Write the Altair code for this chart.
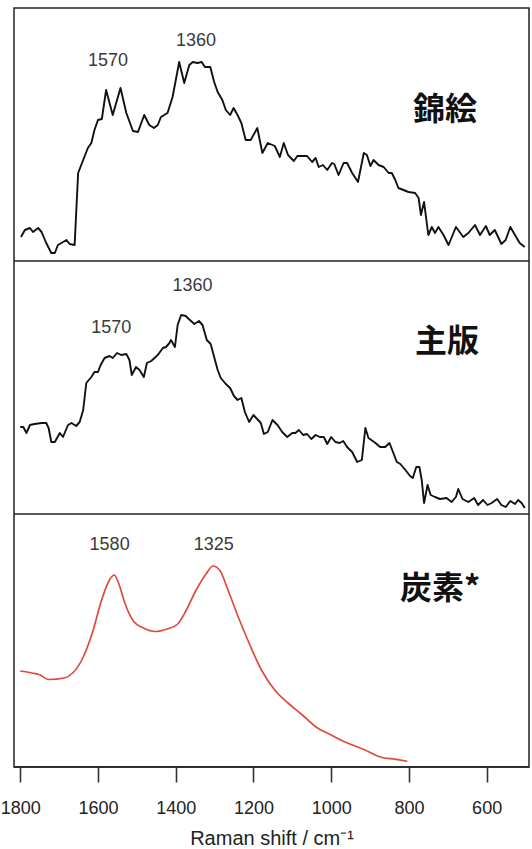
import altair as alt
import pandas as pd

# Shared wavenumber axis (cm^-1), drawn high-to-low
x_ticks = [1800, 1600, 1400, 1200, 1000, 800, 600]
x_domain = [491, 1816]

# 錦絵 spectrum
nishikie_wn = [1798, 1788, 1775, 1767, 1754, 1745, 1733, 1720, 1711, 1703, 1694, 1681, 1673, 1660,
               1651, 1638, 1626, 1617, 1609, 1600, 1590, 1579, 1562, 1542, 1527, 1510, 1497, 1481,
               1468, 1456, 1446, 1438, 1421, 1408, 1391, 1378, 1365, 1356, 1344, 1333, 1325, 1311,
               1301, 1292, 1280, 1271, 1260, 1251, 1241, 1231, 1220, 1207, 1190, 1177, 1163, 1145,
               1132, 1122, 1111, 1096, 1087, 1062, 1049, 1040, 1032, 1021, 1010, 998, 992, 981,
               968, 959, 946, 931, 916, 908, 899, 891, 878, 865, 852, 844, 835, 827,
               814, 801, 784, 775, 769, 761, 750, 741, 733, 724, 711, 698, 679, 660,
               647, 630, 617, 602, 592, 579, 562, 551, 539, 527, 515, 502]
nishikie_int = [26, 33, 35, 31, 35, 31, 20, 10, 10, 18, 20, 23, 19, 18,
                90, 103, 115, 120, 133, 143, 144, 173, 148, 175, 150, 132, 131, 148,
                138, 135, 138, 146, 150, 166, 201, 180, 198, 201, 200, 201, 196, 196,
                181, 171, 163, 153, 148, 155, 148, 140, 123, 123, 135, 110, 120, 117,
                106, 120, 108, 102, 107, 107, 101, 105, 96, 98, 93, 100, 99, 88,
                100, 100, 90, 81, 110, 108, 97, 103, 98, 96, 90, 90, 83, 75,
                73, 71, 70, 65, 48, 61, 28, 36, 30, 36, 28, 18, 36, 26,
                30, 38, 28, 37, 28, 33, 19, 23, 36, 28, 20, 16]

# 主版 spectrum
shuhan_wn = [1800, 1792, 1784, 1775, 1763, 1745, 1733, 1727, 1720, 1711, 1698, 1690, 1677, 1668,
             1656, 1647, 1638, 1630, 1617, 1609, 1600, 1593, 1583, 1570, 1562, 1551, 1540, 1527,
             1519, 1513, 1502, 1493, 1482, 1474, 1463, 1446, 1433, 1425, 1416, 1412, 1402, 1395,
             1386, 1374, 1369, 1352, 1340, 1331, 1320, 1310, 1301, 1292, 1284, 1271, 1260, 1250,
             1241, 1231, 1222, 1211, 1200, 1188, 1181, 1173, 1163, 1151, 1138, 1126, 1113, 1100,
             1092, 1083, 1072, 1062, 1051, 1040, 1029, 1019, 1010, 1000, 989, 978, 969, 959,
             946, 933, 921, 912, 904, 886, 874, 861, 850, 840, 831, 822, 809, 797,
             790, 781, 773, 767, 761, 752, 744, 733, 720, 703, 690, 679, 673, 662,
             647, 632, 622, 609, 598, 587, 573, 562, 551, 539, 527, 519, 510, 502]
shuhan_int = [89, 89, 83, 91, 92, 93, 93, 88, 74, 74, 83, 79, 91, 93,
              90, 94, 106, 133, 139, 144, 144, 151, 158, 160, 158, 163, 161, 162,
              156, 141, 149, 146, 139, 153, 155, 161, 168, 169, 173, 176, 169, 191,
              201, 200, 198, 192, 195, 191, 176, 172, 159, 146, 138, 132, 128, 120,
              116, 118, 104, 94, 101, 96, 93, 82, 84, 96, 91, 84, 79, 83,
              83, 86, 81, 82, 77, 81, 79, 79, 72, 79, 74, 73, 75, 69,
              64, 54, 56, 88, 78, 73, 69, 69, 73, 63, 54, 52, 46, 40,
              38, 49, 49, 36, 13, 31, 21, 19, 17, 18, 14, 19, 27, 17,
              14, 18, 11, 16, 11, 13, 17, 11, 9, 15, 12, 16, 13, 8]

# 炭素 reference spectrum
carbon_wn = [1800, 1770, 1752, 1726, 1687, 1665, 1639, 1613, 1591, 1569, 1558, 1548, 1530, 1509,
             1483, 1452, 1422, 1395, 1374, 1348, 1322, 1304, 1287, 1265, 1239, 1208, 1178, 1143,
             1108, 1074, 1039, 1000, 961, 913, 874, 834, 804]
carbon_int = [96, 94, 92.5, 87.5, 89, 94, 109, 136, 166.5, 188, 192, 185, 163, 146,
              139, 135.5, 138, 143, 156, 176.5, 193, 201, 197, 176.5, 150, 121, 96, 76,
              63, 52, 40, 32, 24.5, 17, 10, 7.7, 5.7]

# Peak annotations: text, wavenumber under the text, intensity level of the text
nishikie_peaks = {"t": ["1570", "1360"], "wn": [1574, 1348], "I": [202, 222]}
shuhan_peaks = {"t": ["1570", "1360"], "wn": [1566, 1357], "I": [188, 230]}
carbon_peaks = {"t": ["1580", "1325"], "wn": [1570, 1302], "I": [222, 222]}

PLOT_W = 515
PANEL_H = 253
x_scale = alt.Scale(domain=x_domain, reverse=True, nice=False, zero=False)
x_axis = alt.Axis(values=x_ticks, format="d", title="Raman shift / cm⁻¹", grid=False)


def panel(idx, wn, inten, color, width, interp, peaks, name, name_wn, name_i, y_domain):
    # each panel owns one horizontal strip of the plot area
    y_scale = alt.Scale(domain=y_domain, range=[PANEL_H * (idx + 1), PANEL_H * idx],
                        nice=False, zero=False)
    X = alt.X("wn:Q", scale=x_scale, axis=x_axis)
    spec = pd.DataFrame({"wn": wn, "I": inten})
    line = alt.Chart(spec).mark_line(
        color=color, strokeWidth=width, interpolate=interp, strokeJoin="round"
    ).encode(x=X, y=alt.Y("I:Q", scale=y_scale, axis=None))
    pk = pd.DataFrame(peaks)
    peak_text = alt.Chart(pk).mark_text(
        font="Liberation Sans", fontSize=18, color="#3a3a3a", baseline="middle"
    ).encode(x=X, y=alt.Y("I:Q", scale=y_scale, axis=None), text="t:N")
    nm = pd.DataFrame({"t": [name], "wn": [name_wn], "I": [name_i]})
    name_text = alt.Chart(nm).mark_text(
        font="Noto Sans CJK JP", fontSize=32, fontWeight="bold", color="#111111",
        baseline="middle"
    ).encode(x=X, y=alt.Y("I:Q", scale=y_scale, axis=None), text="t:N")
    # frame line along the lower edge of the strip
    edge = alt.Chart(pd.DataFrame({"I": [y_domain[0]]})).mark_rule(
        color="#222222", strokeWidth=1.5
    ).encode(y=alt.Y("I:Q", scale=y_scale, axis=None))
    return alt.layer(line, peak_text, name_text, edge)


p1 = panel(0, nishikie_wn, nishikie_int, "#111111", 1.9, "linear", nishikie_peaks,
           "錦絵", 707, 153, [2, 255])
p2 = panel(1, shuhan_wn, shuhan_int, "#111111", 1.9, "linear", shuhan_peaks,
           "主版", 702, 174, [2, 255])
p3 = panel(2, carbon_wn, carbon_int, "#dd4b3e", 1.7, "monotone", carbon_peaks,
           "炭素*", 720, 178, [0, 253])

chart = alt.layer(p1, p2, p3).resolve_scale(y="independent").properties(
    width=PLOT_W,
    height=PANEL_H * 3,
    autosize=alt.AutoSizeParams(type="none"),
    padding={"left": 14, "top": 8, "right": 3, "bottom": 82},
    background="white",
).configure_view(
    stroke="#222222", strokeWidth=1.5
).configure_axis(
    domain=False,
    ticks=True,
    tickSize=15,
    tickWidth=1.6,
    tickColor="#333333",
    labelFont="Liberation Sans",
    labelFontSize=18,
    labelColor="#222222",
    labelPadding=17,
    titleFont="Liberation Sans",
    titleFontSize=20,
    titleFontWeight="normal",
    titleColor="#222222",
    titleBaseline="alphabetic",
    titleY=77,
)

chart.save("out.html", embed_options={"renderer": "svg", "actions": False})
